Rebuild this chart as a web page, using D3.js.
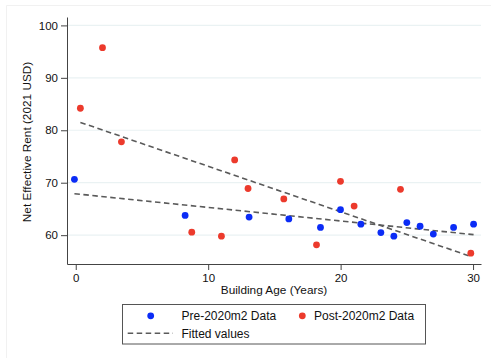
<!DOCTYPE html>
<html>
<head>
<meta charset="utf-8">
<script src="https://cdn.jsdelivr.net/npm/d3@7/dist/d3.min.js"></script>
<style>
  html, body { margin: 0; padding: 0; background: #fff; }
  svg { display: block; font-family: "Liberation Sans", Arial, Helvetica, sans-serif; }
</style>
</head>
<body>
<svg id="chart" width="491" height="358"></svg>
<script>
// Building age (years) and net effective rent (2021 USD), before Feb 2020
const preAge  = [-0.1, 8.26, 13.09, 16.09, 18.48, 19.99, 21.53, 23.04, 24.02, 25.0, 26.0, 27.0, 28.53, 30.04];
const preRent = [70.65, 63.77, 63.44, 63.1, 61.47, 64.85, 62.1, 60.5, 59.8, 62.4, 61.7, 60.2, 61.47, 62.1];

// Same measures, from Feb 2020 onwards
const postAge  = [0.35, 2.02, 3.45, 8.76, 11.0, 12.0, 13.01, 15.71, 18.18, 19.99, 21.02, 24.52, 29.83];
const postRent = [84.2, 95.75, 77.8, 60.57, 59.8, 74.34, 68.9, 66.9, 58.15, 70.27, 65.54, 68.74, 56.56];

const xTicks = [0, 10, 20, 30];
const yTicks = [60, 70, 80, 90, 100];
const legendLabels = ["Pre-2020m2 Data", "Post-2020m2 Data", "Fitted values"];

const BLUE = "#0b2cf6", RED = "#ec3a2c", LINE = "#5a5a5a";

const svg = d3.select("#chart");
const plot = { left: 67, right: 481, top: 17, bottom: 264 };

const x = d3.scaleLinear().domain([-0.66, 30.6]).range([plot.left, plot.right]);
const y = d3.scaleLinear().domain([54.5, 101.6]).range([plot.bottom, plot.top]);

// faint outer frame of the graph region
svg.append("line").attr("x1", 6.5).attr("x2", 491).attr("y1", 5.5).attr("y2", 5.5)
  .attr("stroke", "#f1f1f1").attr("stroke-width", 1);
svg.append("line").attr("x1", 6.5).attr("x2", 6.5).attr("y1", 5.5).attr("y2", 358)
  .attr("stroke", "#f1f1f1").attr("stroke-width", 1);

// horizontal gridlines
svg.append("g").selectAll("line").data(yTicks).join("line")
  .attr("x1", plot.left).attr("x2", plot.right)
  .attr("y1", d => y(d)).attr("y2", d => y(d))
  .attr("stroke", "#eaf2f3").attr("stroke-width", 1.2);

// axes
const yAxis = svg.append("g").attr("transform", `translate(${plot.left},0)`)
  .call(d3.axisLeft(y).tickValues(yTicks).tickSize(6).tickPadding(3).tickSizeOuter(0));
const xAxis = svg.append("g").attr("transform", `translate(0,${plot.bottom})`)
  .call(d3.axisBottom(x).tickValues(xTicks).tickSize(6).tickPadding(4).tickSizeOuter(0));

[xAxis, yAxis].forEach(g => {
  g.select(".domain").attr("stroke", "#444").attr("stroke-width", 1);
  g.selectAll(".tick line").attr("stroke", "#444").attr("stroke-width", 1);
  g.selectAll(".tick text").attr("fill", "#111").attr("font-size", 11.5)
    .attr("font-family", "'Liberation Sans', Arial, sans-serif");
});

// axis titles
svg.append("text").attr("x", 274).attr("y", 294).attr("text-anchor", "middle")
  .attr("font-size", 11.8).attr("fill", "#111").text("Building Age (Years)");
svg.append("text").attr("transform", "translate(31,142) rotate(-90)").attr("text-anchor", "middle")
  .attr("font-size", 11.8).attr("fill", "#111").text("Net Effective Rent (2021 USD)");

// least-squares fit over a group's own age range
function fitLine(xs, ys) {
  const mx = d3.mean(xs), my = d3.mean(ys);
  const sxy = d3.sum(xs, (v, i) => (v - mx) * (ys[i] - my));
  const sxx = d3.sum(xs, v => (v - mx) * (v - mx));
  const b = sxy / sxx, a = my - b * mx;
  const [x0, x1] = d3.extent(xs);
  return [[x0, a + b * x0], [x1, a + b * x1]];
}

const lineGen = d3.line().x(d => x(d[0])).y(d => y(d[1]));
[fitLine(preAge, preRent), fitLine(postAge, postRent)].forEach(seg => {
  svg.append("path").attr("d", lineGen(seg)).attr("fill", "none")
    .attr("stroke", LINE).attr("stroke-width", 1.6).attr("stroke-dasharray", "5.5,3.5");
});

// scatter points
const pre = preAge.map((a, i) => [a, preRent[i]]);
const post = postAge.map((a, i) => [a, postRent[i]]);
svg.append("g").selectAll("circle").data(pre).join("circle")
  .attr("cx", d => x(d[0])).attr("cy", d => y(d[1])).attr("r", 3.4).attr("fill", BLUE);
svg.append("g").selectAll("circle").data(post).join("circle")
  .attr("cx", d => x(d[0])).attr("cy", d => y(d[1])).attr("r", 3.4).attr("fill", RED);

// legend
const lg = svg.append("g");
lg.append("rect").attr("x", 122.5).attr("y", 304.5).attr("width", 303).attr("height", 39.5)
  .attr("fill", "#fff").attr("stroke", "#555").attr("stroke-width", 1);
lg.append("circle").attr("cx", 150.7).attr("cy", 315.8).attr("r", 3.4).attr("fill", BLUE);
lg.append("text").attr("x", 181.5).attr("y", 320).attr("font-size", 12).attr("fill", "#111").text(legendLabels[0]);
lg.append("circle").attr("cx", 302.3).attr("cy", 315.8).attr("r", 3.4).attr("fill", RED);
lg.append("text").attr("x", 314).attr("y", 320).attr("font-size", 12).attr("fill", "#111").text(legendLabels[1]);
lg.append("line").attr("x1", 127.7).attr("x2", 173).attr("y1", 333.3).attr("y2", 333.3)
  .attr("stroke", LINE).attr("stroke-width", 1.6).attr("stroke-dasharray", "5.5,3.5");
lg.append("text").attr("x", 181.5).attr("y", 337.5).attr("font-size", 12).attr("fill", "#111").text(legendLabels[2]);
</script>
</body>
</html>
